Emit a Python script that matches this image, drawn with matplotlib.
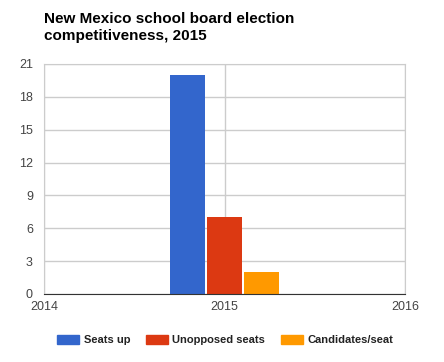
import matplotlib.pyplot as plt
from matplotlib.patches import Patch

plt.rcParams['font.family'] = ['Liberation Sans', 'DejaVu Sans']

years = [2014, 2015, 2016]
series = ["Seats up", "Unopposed seats", "Candidates/seat"]
values = [20, 7, 2.05]
colors = ["#3366cc", "#dc3912", "#ff9900"]
yticks = [0, 3, 6, 9, 12, 15, 18, 21]

fig = plt.figure(figsize=(4.44, 3.62), dpi=100)
ax = fig.add_axes([44 / 444, 68 / 362, 361 / 444, 230 / 362])

width = 0.198
offsets = [-0.205, 0, 0.205]
for name, v, c, off in zip(series, values, colors, offsets):
    ax.bar(2015 + off, v, width=width, color=c, zorder=3, label=name)

ax.set_xlim(2014, 2016)
ax.set_ylim(0, 21)
ax.set_yticks(yticks)
ax.set_xticks(years)
ax.set_xticklabels([str(y) for y in years])
ax.grid(True, color="#cccccc", linewidth=1, zorder=0)
for s in ["top", "right", "left"]:
    ax.spines[s].set_color("#cccccc")
ax.spines["bottom"].set_color("#333333")
ax.spines["bottom"].set_zorder(4)
ax.tick_params(length=0, labelsize=9, colors="#444444")
ax.tick_params(axis="y", pad=8)
ax.tick_params(axis="x", pad=5)

fig.text(44 / 444, 1 - 12 / 362, "New Mexico school board election\ncompetitiveness, 2015",
         fontsize=11, fontweight="bold", va="top", ha="left", linespacing=1.3)

handles = [Patch(color=c) for c in colors]
fig.legend(handles, series, loc="center left", bbox_to_anchor=(47 / 444, 1 - 340 / 362), ncol=3,
           frameon=False, prop={"size": 8, "weight": "bold"}, handlelength=2.0, handleheight=0.9,
           columnspacing=1.4, handletextpad=0.4)
for t in fig.legends[0].get_texts():
    t.set_color("#222222")

fig.savefig("out.png", dpi=100)
